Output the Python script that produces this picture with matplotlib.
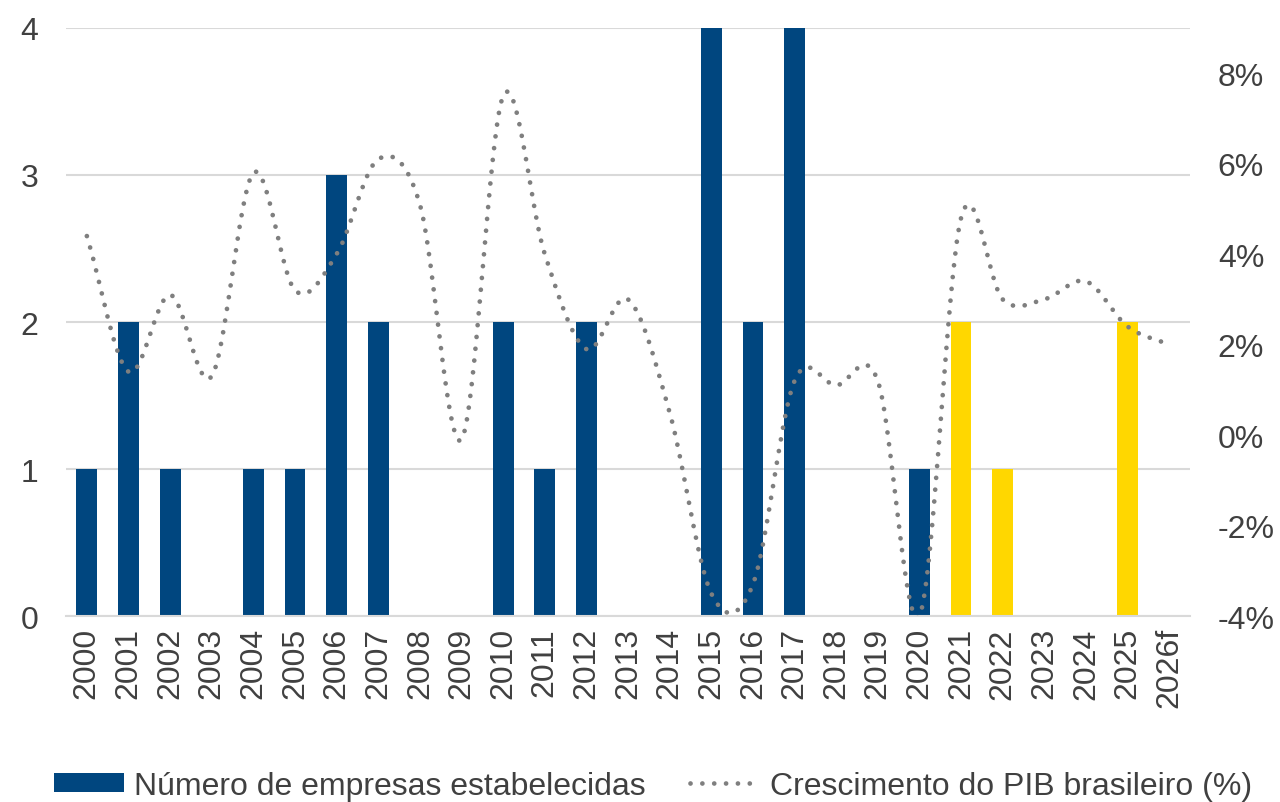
import numpy as np
import matplotlib
matplotlib.use("Agg")
import matplotlib.pyplot as plt
from matplotlib.patches import Patch
from matplotlib.lines import Line2D

plt.rcParams['font.family'] = ['Liberation Sans', 'DejaVu Sans']

# dados
anos = ['2000', '2001', '2002', '2003', '2004', '2005', '2006', '2007', '2008',
        '2009', '2010', '2011', '2012', '2013', '2014', '2015', '2016', '2017',
        '2018', '2019', '2020', '2021', '2022', '2023', '2024', '2025', '2026f']
empresas = [1, 2, 1, 0, 1, 1, 3, 2, 0, 0, 2, 1, 2, 0, 0, 4, 2, 4, 0, 0, 1, 2, 1, 0, 0, 2, 0]
destaque = [False] * 21 + [True] * 6   # 2021 em diante em amarelo
pib = [4.4, 1.4, 3.1, 1.3, 5.8, 3.2, 4.0, 6.1, 5.1, -0.1, 7.5, 4.0, 1.9, 3.0, 0.5,
       -3.5, -3.3, 1.2, 1.1, 1.2, -4.0, 4.8, 3.0, 3.0, 3.4, 2.4, 2.0]

azul = '#00467F'
amarelo = '#FFD700'
cinza = '#7F7F7F'
fs = 23


def catmull_rom(x, y, n=20):
    # curva suavizada estilo Excel
    x = np.asarray(x, float)
    y = np.asarray(y, float)
    px = np.concatenate([[2 * x[0] - x[1]], x, [2 * x[-1] - x[-2]]])
    py = np.concatenate([[2 * y[0] - y[1]], y, [2 * y[-1] - y[-2]]])
    xs, ys = [], []
    for i in range(1, len(px) - 2):
        t = np.linspace(0, 1, n, endpoint=False)
        for p, out in ((px, xs), (py, ys)):
            p0, p1, p2, p3 = p[i - 1], p[i], p[i + 1], p[i + 2]
            out.extend(0.5 * (2 * p1 + (-p0 + p2) * t
                              + (2 * p0 - 5 * p1 + 4 * p2 - p3) * t ** 2
                              + (-p0 + 3 * p1 - 3 * p2 + p3) * t ** 3))
    xs.append(x[-1])
    ys.append(y[-1])
    return np.array(xs), np.array(ys)


fig = plt.figure(figsize=(12.8, 8.03), dpi=100)
ax = fig.add_axes([0.0516, 0.2316, 0.8781, 0.7323])
x = np.arange(len(anos))
cores = [amarelo if d else azul for d in destaque]
ax.bar(x, empresas, width=0.5, color=cores, zorder=2)

ax.set_ylim(0, 4)
ax.set_yticks([0, 1, 2, 3, 4])
ax.set_xlim(-0.5, len(anos) - 0.5)
ax.set_xticks(x)
ax.set_xticklabels(anos, rotation=90)
ax.grid(axis='y', color='#D9D9D9', linewidth=1.5, zorder=0)
for s in ['top', 'right', 'left']:
    ax.spines[s].set_visible(False)
ax.spines['bottom'].set_color('#D9D9D9')
ax.spines['bottom'].set_linewidth(1.5)
ax.tick_params(axis='both', length=0, labelsize=fs, labelcolor='#404040')
ax.tick_params(axis='y', pad=20)
ax.tick_params(axis='x', pad=8)

ax2 = ax.twinx()
sx, sy = catmull_rom(x, pib)
ax2.plot(sx, sy, color=cinza, linewidth=3.4, linestyle=(0, (0.01, 2.5)),
         dash_capstyle='round', zorder=3)
ax2.set_ylim(-4, 9)
ax2.set_yticks([-4, -2, 0, 2, 4, 6, 8])
ax2.set_yticklabels(['-4%', '-2%', '0%', '2%', '4%', '6%', '8%'])
for s in ['top', 'right', 'left', 'bottom']:
    ax2.spines[s].set_visible(False)
ax2.tick_params(axis='y', length=0, labelsize=fs, labelcolor='#404040', pad=20)

handles = [Patch(facecolor=azul, label='Número de empresas estabelecidas'),
           Line2D([0], [0], color=cinza, linewidth=3.4, linestyle=(0, (0.01, 2.5)),
                  dash_capstyle='round', label='Crescimento do PIB brasileiro (%)')]
fig.legend(handles=handles, loc='center', bbox_to_anchor=(0.51, 0.02), ncol=2,
           frameon=False, fontsize=fs, labelcolor='#404040', handlelength=2.2,
           handleheight=0.55, handletextpad=0.3, columnspacing=1.4)

fig.savefig('out.png', dpi=100)
